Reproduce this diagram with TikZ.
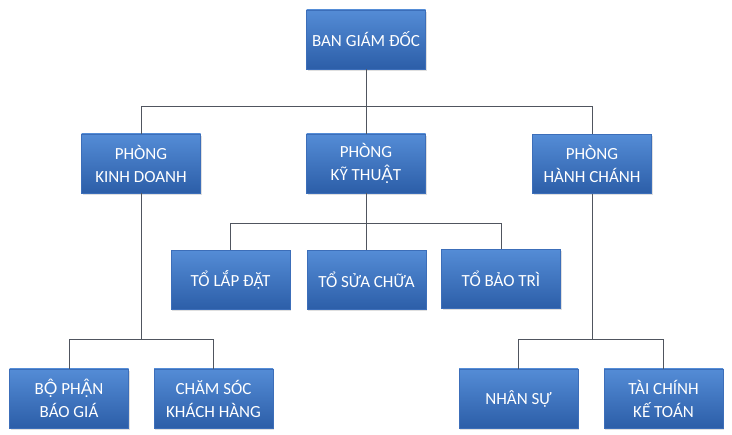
\documentclass[tikz,border=0pt]{standalone}
\usepackage{fontspec}
\setmainfont{Carlito}
\newfontfamily\altvn{Lato}
\usetikzlibrary{shadows}
\definecolor{boxtop}{RGB}{84,140,214}
\definecolor{boxbot}{RGB}{44,94,168}
\definecolor{boxedge}{RGB}{60,110,185}
\definecolor{linec}{RGB}{80,85,95}
\begin{document}
\begin{tikzpicture}[x=1pt,y=-1pt,
  unit/.style={rectangle, minimum width=119pt, minimum height=59pt,
    top color=boxtop, bottom color=boxbot, draw=boxedge, line width=0.4pt,
    text=white, font=\fontsize{17}{23}\selectfont, align=center, inner sep=2pt,
    drop shadow={opacity=0.25, shadow xshift=1.2pt, shadow yshift=-1.8pt}},
  conn/.style={draw=linec, line width=0.9pt}]
\useasboundingbox (0,0) rectangle (732,435);
\fill[white] (0,0) rectangle (732,435);
\node[unit] (top) at (366,39.5) {BAN GIÁM ĐỐC};
\node[unit] (pkd) at (141,163.5) {PHÒNG\\KINH DOANH};
\node[unit] (pkt) at (366,163.5) {PHÒNG\\KỸ THU{\altvn Ậ}T};
\node[unit] (phc) at (592,164) {PHÒNG\\HÀNH CHÁNH};
\node[unit] (t1) at (230.5,280) {TỔ LẮP ĐẶT};
\node[unit] (t2) at (366.5,280) {TỔ SỬA CHỮA};
\node[unit] (t3) at (501,279) {TỔ BẢO TRÌ};
\node[unit] (b1) at (69,398.5) {B{\altvn Ộ} PH{\altvn Ậ}N\\BÁO GIÁ};
\node[unit] (b2) at (213.5,398.5) {CHĂM SÓC\\KHÁCH HÀNG};
\node[unit] (b3) at (518.5,398.5) {NHÂN SỰ};
\node[unit] (b4) at (663.5,398.5) {TÀI CHÍNH\\KẾ TOÁN};
\coordinate (j1) at (366,106);
\coordinate (j2) at (366,223);
\coordinate (j3) at (141,339);
\coordinate (j4) at (592,339);
\draw[conn] (top.south) -- (j1) -| (pkd.north);
\draw[conn] (j1) -| (phc.north);
\draw[conn] (j1) -- (pkt.north);
\draw[conn] (pkt.south) -- (j2) -| (t1.north);
\draw[conn] (j2) -| (t3.north);
\draw[conn] (j2) -- (t2.north -| j2);
\draw[conn] (pkd.south) -- (j3) -| (b1.north);
\draw[conn] (j3) -| (b2.north);
\draw[conn] (phc.south) -- (j4) -| (b3.north);
\draw[conn] (j4) -| (b4.north);
\end{tikzpicture}
\end{document}
